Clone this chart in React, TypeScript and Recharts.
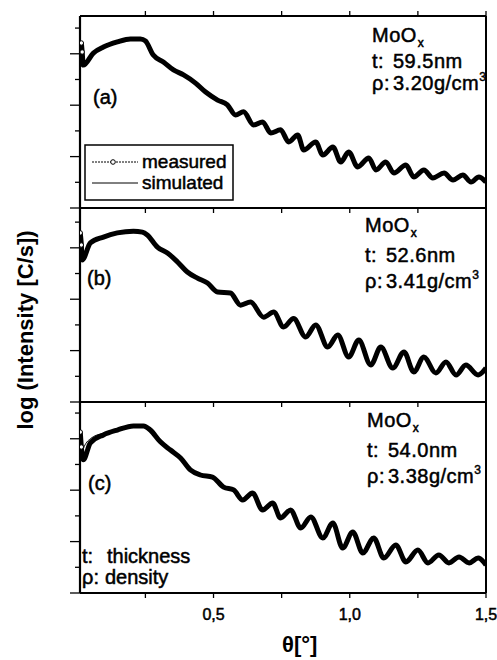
import React from 'react';
import { LineChart, Line, XAxis, YAxis } from 'recharts';

const FONT = '"Liberation Sans", Arial, Helvetica, sans-serif';

// theta in degrees, log intensity in arbitrary units (one minor tick = 1)
const thetaA = [0.015, 0.018, 0.022, 0.059, 0.096, 0.147, 0.195, 0.232, 0.25, 0.279, 0.316, 0.353, 0.39, 0.434, 0.471, 0.515, 0.551, 0.581, 0.61, 0.647, 0.68, 0.71, 0.746, 0.776, 0.809, 0.831, 0.875, 0.901, 0.938, 0.967, 0.996, 1.029, 1.07, 1.096, 1.132, 1.162, 1.206, 1.235, 1.272, 1.305, 1.346, 1.379, 1.415, 1.445, 1.474, 1.5];
const measA = [6.42, 6.07, 5.56, 6.03, 6.26, 6.46, 6.58, 6.58, 6.5, 5.95, 5.68, 5.37, 5.18, 4.86, 4.51, 4.2, 4.01, 3.62, 3.74, 3.23, 3.35, 2.92, 3.04, 2.57, 2.84, 2.26, 2.57, 2.06, 2.37, 1.79, 2.18, 1.6, 1.95, 1.48, 1.79, 1.36, 1.67, 1.21, 1.48, 1.17, 1.36, 1.09, 1.28, 1.01, 1.21, 1.01];
const simHeadA = [5.5, 5.52, 5.56];

const thetaB = [0.011, 0.015, 0.018, 0.048, 0.096, 0.147, 0.206, 0.239, 0.257, 0.294, 0.331, 0.368, 0.404, 0.441, 0.478, 0.515, 0.562, 0.599, 0.636, 0.684, 0.721, 0.757, 0.794, 0.838, 0.875, 0.919, 0.956, 0.996, 1.033, 1.077, 1.114, 1.158, 1.199, 1.235, 1.272, 1.316, 1.353, 1.39, 1.426, 1.471, 1.5];
const measB = [6.58, 6.11, 5.53, 6.19, 6.42, 6.58, 6.65, 6.61, 6.5, 6.03, 5.8, 5.45, 5.06, 4.82, 4.63, 4.28, 4.24, 3.77, 3.89, 3.3, 3.5, 2.92, 3.25, 2.53, 3.0, 2.14, 2.61, 1.75, 2.41, 1.44, 2.14, 1.32, 1.95, 1.17, 1.75, 1.13, 1.56, 1.05, 1.44, 1.05, 1.32];
const simHeadB = [5.5, 5.52, 5.53];

const thetaC = [0.011, 0.015, 0.022, 0.048, 0.096, 0.147, 0.206, 0.243, 0.268, 0.305, 0.342, 0.379, 0.415, 0.452, 0.496, 0.537, 0.574, 0.607, 0.643, 0.68, 0.717, 0.746, 0.783, 0.82, 0.857, 0.901, 0.938, 0.974, 1.011, 1.048, 1.088, 1.125, 1.169, 1.206, 1.25, 1.287, 1.327, 1.364, 1.401, 1.438, 1.471, 1.5];
const measC = [6.26, 5.68, 5.18, 5.84, 6.15, 6.34, 6.5, 6.5, 6.34, 5.88, 5.56, 5.25, 4.79, 4.59, 4.51, 4.12, 4.01, 3.62, 3.89, 3.23, 3.5, 2.92, 3.23, 2.53, 2.96, 2.14, 2.72, 1.75, 2.37, 1.56, 2.14, 1.36, 1.87, 1.21, 1.67, 1.17, 1.48, 1.17, 1.4, 1.17, 1.36, 1.09];
const simHeadC = [5.2, 5.35, 5.6, 6.0, 6.22];

const thetaTicks = [0.25, 0.5, 0.75, 1.0, 1.25, 1.5];
const thetaTickLabels = ['', '0,5', '', '1,0', '', '1,5'];
const logTicks = [0, 1, 2, 3, 4, 5, 6, 7];

const buildRows = (theta: number[], meas: number[], simHead: number[]) =>
  theta.map((t, i) => ({ theta: t, meas: meas[i], sim: i < simHead.length ? simHead[i] : meas[i] }));

const rowsA = buildRows(thetaA, measA, simHeadA);
const rowsB = buildRows(thetaB, measB, simHeadB);
const rowsC = buildRows(thetaC, measC, simHeadC);

// scanned print looks heavier than a plain regular face
const heavy = { stroke: '#000', strokeWidth: 0.5 };

const XTick = ({ x, y, payload, dir, labels }: any) => {
  const idx = thetaTicks.indexOf(payload.value);
  const lab = labels ? thetaTickLabels[idx] : '';
  return (
    <g>
      <line x1={x} x2={x} y1={y} y2={y + dir * 5} stroke="#000" strokeWidth={1.3} />
      {lab && (
        <text x={x} y={y + 27} textAnchor="middle" fontSize={16} fontFamily={FONT} fill="#000" {...heavy}>
          {lab}
        </text>
      )}
    </g>
  );
};

const YTick = ({ x, y, payload }: any) => {
  const len = payload.value % 2 === 0 ? 10 : 5;
  return <line x1={x - len} x2={x} y1={y} y2={y} stroke="#000" strokeWidth={1.3} />;
};

const openDot = (n: number) => (p: any) =>
  p.index < n ? (
    <circle key={`d${p.index}`} cx={p.cx} cy={p.cy} r={2.2} fill="#fff" stroke="#000" strokeWidth={1} />
  ) : (
    <g key={`d${p.index}`} />
  );

interface PanelProps {
  rows: any[];
  top: number;
  height: number;
  yMax: number;
  topAxis?: boolean;
  bottomAxisHeight: number;
  labels?: boolean;
  headDots: number;
}

function Panel({ rows, top, height, yMax, topAxis, bottomAxisHeight, labels, headDots }: PanelProps) {
  return (
    <div style={{ position: 'absolute', left: 0, top }}>
      <LineChart width={497} height={height} data={rows} margin={{ top: 0, right: 6, bottom: 0, left: 70 }}>
        <XAxis
          xAxisId="b"
          dataKey="theta"
          type="number"
          domain={[0.01, 1.5]}
          allowDataOverflow
          ticks={thetaTicks}
          interval={0}
          height={bottomAxisHeight}
          tickSize={0}
          tickMargin={0}
          tickLine={false}
          axisLine={{ stroke: '#000', strokeWidth: 2 }}
          tick={(p: any) => <XTick {...p} dir={1} labels={labels} />}
        />
        {topAxis && (
          <XAxis
            xAxisId="t"
            orientation="top"
            dataKey="theta"
            type="number"
            domain={[0.01, 1.5]}
            allowDataOverflow
            ticks={thetaTicks}
            interval={0}
            height={16}
            tickSize={0}
            tickMargin={0}
            tickLine={false}
            axisLine={{ stroke: '#000', strokeWidth: 2 }}
            tick={(p: any) => <XTick {...p} dir={-1} />}
          />
        )}
        <YAxis
          yAxisId="l"
          type="number"
          domain={[0, yMax]}
          allowDataOverflow
          ticks={logTicks}
          interval={0}
          width={10}
          tickSize={0}
          tickMargin={0}
          tickLine={false}
          axisLine={{ stroke: '#000', strokeWidth: 2.2 }}
          tick={(p: any) => <YTick {...p} />}
        />
        <YAxis
          yAxisId="r"
          orientation="right"
          type="number"
          domain={[0, yMax]}
          width={5}
          tick={false}
          tickLine={false}
          axisLine={{ stroke: '#000', strokeWidth: 2 }}
        />
        <Line
          xAxisId="b"
          yAxisId="l"
          dataKey="meas"
          type="monotone"
          stroke="#000"
          strokeWidth={5}
          dot={openDot(headDots)}
          isAnimationActive={false}
        />
        <Line
          xAxisId="b"
          yAxisId="l"
          dataKey="sim"
          type="monotone"
          stroke="#000"
          strokeWidth={1}
          dot={false}
          isAnimationActive={false}
        />
      </LineChart>
    </div>
  );
}

function Info({ x, y, t, rho }: { x: number; y: number[]; t: string; rho: string }) {
  return (
    <g fontFamily={FONT} fontSize={20} fill="#000" letterSpacing={0.5} {...heavy}>
      <text x={x} y={y[0]}>
        MoO<tspan dx={1} dy={5} fontSize={12}>x</tspan>
      </text>
      <text x={x} y={y[1]}>
        t:<tspan x={x + 21}>{t}</tspan>
      </text>
      <text x={x} y={y[2]}>
        ρ:<tspan x={x + 21}>{rho}</tspan>
        <tspan dy={-9} fontSize={12}>3</tspan>
      </text>
    </g>
  );
}

export default function App() {
  return (
    <div style={{ position: 'absolute', left: 0, top: 0, width: 497, height: 660, background: '#fff', fontFamily: FONT }}>
      <Panel rows={rowsA} top={0} height={218} yMax={7.47} topAxis bottomAxisHeight={10} headDots={2} />
      <Panel rows={rowsB} top={208} height={204} yMax={7.55} bottomAxisHeight={10} headDots={2} />
      <Panel rows={rowsC} top={402} height={230} yMax={7.43} bottomAxisHeight={39} labels headDots={2} />
      <svg width={497} height={660} style={{ position: 'absolute', left: 0, top: 0, pointerEvents: 'none' }}>
        <g fontFamily={FONT} fontSize={20} fill="#000" {...heavy}>
          <text x={93} y={104}>(a)</text>
          <text x={87} y={285}>(b)</text>
          <text x={88} y={490}>(c)</text>
          <text x={82} y={563}>t:<tspan x={107}>thickness</tspan></text>
          <text x={82} y={584}>ρ:<tspan x={105}>density</tspan></text>
        </g>
        <Info x={372} y={[42, 68, 90]} t="59.5nm" rho="3.20g/cm" />
        <Info x={365} y={[232, 262, 288]} t="52.6nm" rho="3.41g/cm" />
        <Info x={367} y={[427, 457, 483]} t="54.0nm" rho="3.38g/cm" />
        <g>
          <rect x={85} y={145} width={148} height={55} fill="#fff" stroke="#000" strokeWidth={1.5} />
          <line x1={92} x2={138} y1={162} y2={162} stroke="#000" strokeWidth={1} strokeDasharray="2 1" />
          <circle cx={113} cy={162} r={2.3} fill="#fff" stroke="#000" strokeWidth={1} />
          <line x1={92} x2={138} y1={183} y2={183} stroke="#000" strokeWidth={1} />
          <text x={142} y={168} fontFamily={FONT} fontSize={19} {...heavy}>measured</text>
          <text x={142} y={189} fontFamily={FONT} fontSize={19} {...heavy}>simulated</text>
        </g>
        <text
          transform="translate(33,330) rotate(-90)"
          textAnchor="middle"
          fontFamily={FONT}
          fontWeight="bold"
          fontSize={22}
        >
          log (Intensity [C/s])
        </text>
        <text x={282} y={652} fontFamily={FONT} fontWeight="bold" fontSize={22}>
          θ[°]
        </text>
      </svg>
    </div>
  );
}
